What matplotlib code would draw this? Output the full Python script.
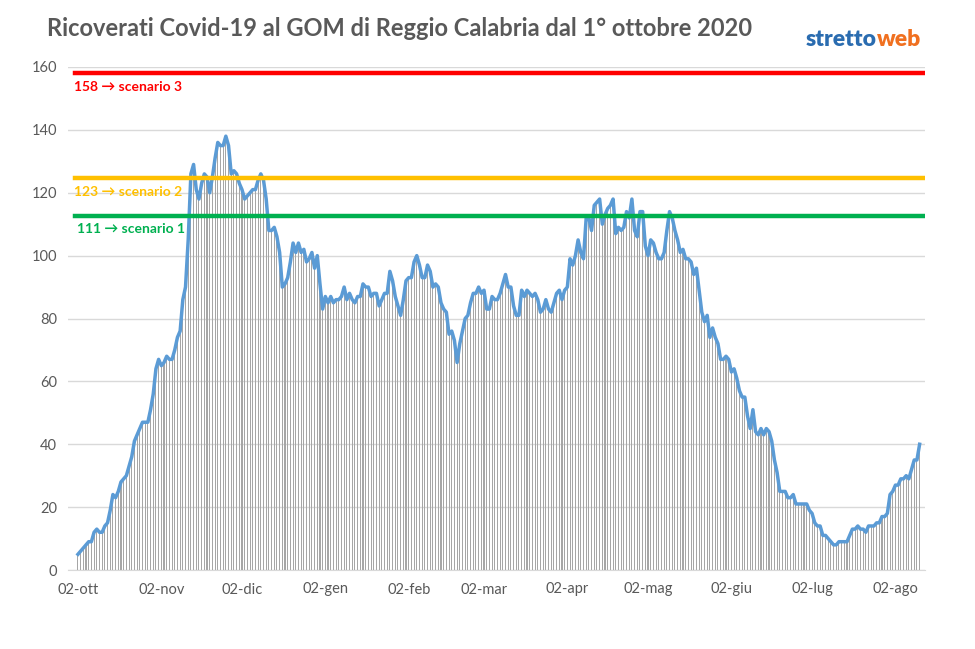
import numpy as np
import matplotlib
matplotlib.use("Agg")
import matplotlib.pyplot as plt

# ricoverati giornalieri dal 02-ott-2020
ricoverati = [
    5, 6, 7, 8, 9, 9, 12, 13, 12, 12, 14, 15, 19, 24, 23, 25, 28, 29, 30, 33,
    36, 41, 43, 45, 47, 47, 47, 51, 56, 64, 67, 65, 66, 68, 67, 67, 70, 74, 76,
    86, 90, 105, 126, 129,
    121, 118, 123, 126, 125, 120, 125, 131, 136, 135, 135, 138, 135, 126, 127,
    126, 123, 121, 118, 119, 120, 121, 121, 124, 126, 124, 118, 108, 108, 109,
    106, 101, 90, 91, 93,
    98, 104, 101, 104, 101, 102, 98, 99, 101, 96, 100, 91, 83, 87, 85, 87, 85,
    86, 86, 87, 90, 86, 88, 86, 85, 87, 87, 91, 90, 90, 87, 88, 88, 84, 86, 88, 88,
    95, 92, 87, 84, 81, 86, 92, 93, 93, 98, 100, 97, 93, 93, 97, 95, 90, 91, 90,
    85, 83, 82, 75, 76, 73, 66, 72, 76, 80, 81, 85, 88, 88, 90, 88, 89, 83, 83,
    87, 86, 86, 88,
    91, 94, 90, 90, 84, 81, 81, 89, 87, 89, 88, 87, 88, 86, 82, 83, 86, 83, 82,
    85, 88, 89, 86, 89, 90, 99, 97, 100, 105, 101, 99, 112, 112, 108, 116, 117,
    118, 110, 113,
    115, 116, 118, 107, 109, 108, 109, 114, 112, 118, 108, 106, 114, 114, 103,
    100, 105, 104, 101, 99, 99, 101, 108, 114, 112, 108, 105, 101, 102, 99, 99,
    98, 94, 96, 89, 82, 79, 81,
    74, 77, 74, 72, 67, 67, 68, 67, 63, 64, 61, 57, 55, 55, 49, 45, 51, 44, 43,
    45, 43, 45, 44, 41, 35, 31, 25, 25, 25, 23, 23, 24, 21, 21, 21, 21, 21, 19,
    18, 15,
    14, 14, 11, 11, 10, 9, 8, 8, 9, 9, 9, 9, 11, 13, 13, 14, 13, 13, 12, 14, 14,
    14, 15, 15, 17, 17, 18, 24, 25, 27, 27, 29, 29, 30, 29, 32, 35, 35, 40,
]

mesi = ["02-ott", "02-nov", "02-dic", "02-gen", "02-feb", "02-mar",
        "02-apr", "02-mag", "02-giu", "02-lug", "02-ago"]
giorni_mesi = [0, 31, 61, 92, 123, 151, 182, 212, 243, 273, 304]

scenari = [158, 124.7, 112.6]
scenari_label = ["158 → scenario 3", "123 → scenario 2", "111 → scenario 1"]
scenari_col = ["#FF0000", "#FFC000", "#00B050"]

plt.rcParams['font.family'] = ['Lato', 'DejaVu Sans']
grigio = "#595959"

fig = plt.figure(figsize=(9.75, 6.49), dpi=100)
ax = fig.add_axes([68/975, 79/649, 857/975, 503/649])

x = np.arange(len(ricoverati))
ax.bar(x, ricoverati, width=0.4, color="#A6A6A6", zorder=2)
ax.plot(x, ricoverati, color="#5B9BD5", linewidth=2.5, zorder=3)

for val, col in zip(scenari, scenari_col):
    ax.axhline(val, xmin=0.008, xmax=1, color=col, linewidth=3.2, zorder=4)

ax.text(-1.5, 155.5, scenari_label[0], color=scenari_col[0], fontsize=10,
        fontweight='bold', va='top', ha='left')
ax.text(-1.5, 122.3, scenari_label[1], color=scenari_col[1], fontsize=10,
        fontweight='bold', va='top', ha='left')
ax.text(-0.3, 110.3, scenari_label[2], color=scenari_col[2], fontsize=10,
        fontweight='bold', va='top', ha='left')

ax.set_xlim(-3.7, 315)
ax.set_ylim(0, 160)
ax.set_yticks(range(0, 161, 20))
ax.set_xticks(giorni_mesi, mesi)
ax.tick_params(axis='both', length=0, colors=grigio, labelsize=10.5)
ax.tick_params(axis='y', pad=8)
ax.tick_params(axis='x', pad=9)
ax.grid(axis='y', color="#D9D9D9", linewidth=1, zorder=0)
ax.set_axisbelow(True)
for s in ['top', 'right', 'left']:
    ax.spines[s].set_visible(False)
ax.spines['bottom'].set_color("#D9D9D9")

fig.text(400/975, 1 - 28/649,
         "Ricoverati Covid-19 al GOM di Reggio Calabria dal 1° ottobre 2020",
         ha='center', va='center', fontsize=17, fontweight='bold', color=grigio)

# logo testuale
t1 = fig.text(806/975, 1 - 39/649, "stretto", ha='left', va='center',
              fontsize=16.5, fontweight='heavy', color="#2A6CB0")
fig.canvas.draw()
bb = t1.get_window_extent()
fig.text(bb.x1 / fig.bbox.width, 1 - 39/649, "web", ha='left', va='center',
         fontsize=16.5, fontweight='heavy', color="#F07020")

fig.savefig("out.png", dpi=100)
